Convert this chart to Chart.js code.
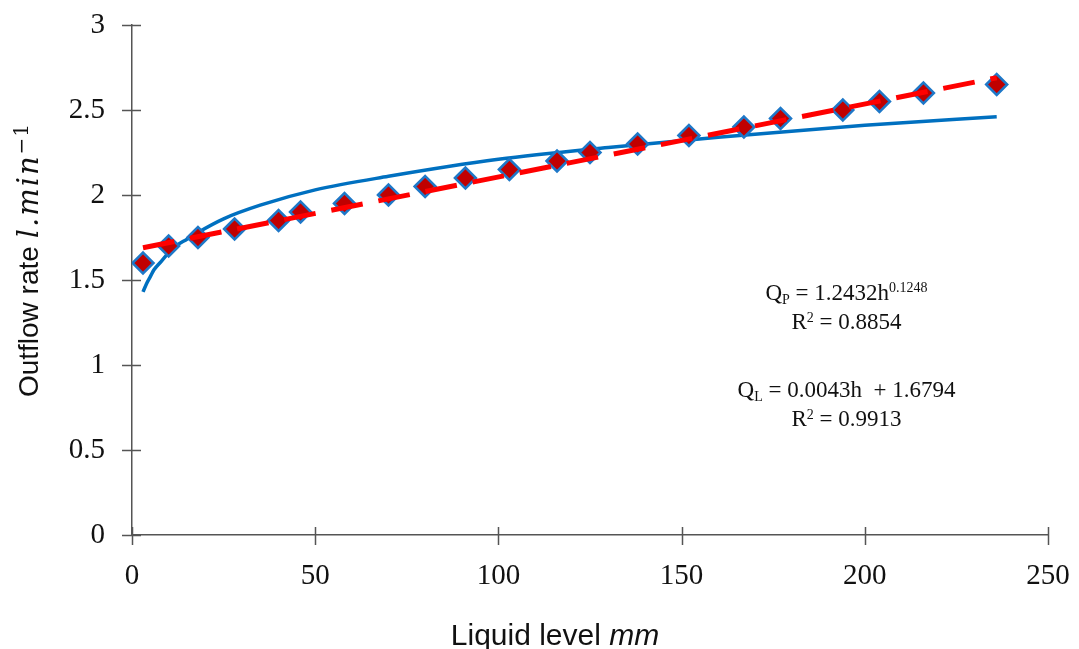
<!DOCTYPE html>
<html>
<head>
<meta charset="utf-8">
<script src="https://cdn.jsdelivr.net/npm/chart.js@4.4.0/dist/chart.umd.min.js"></script>
<style>
  body { margin: 0; background: #fff; }
  #wrap { width: 1079px; height: 649px; }
</style>
</head>
<body>
<div id="wrap"><canvas id="outflow-chart" width="1079" height="649"></canvas></div>
<script>
// Measured outflow (diamond markers)
const levelMm = [3, 10, 18, 28, 40, 46, 58, 70, 80, 91, 103, 116, 125, 138, 152, 167, 177, 194, 204, 216, 236];
const outflow = [1.6, 1.7, 1.75, 1.8, 1.85, 1.9, 1.95, 2.0, 2.05, 2.1, 2.15, 2.2, 2.25, 2.3, 2.35, 2.4, 2.45, 2.5, 2.55, 2.6, 2.65];

// Power trendline
const powerLevel = [3, 4, 5, 6, 8, 10, 12, 15, 18, 25, 35, 50, 70, 100, 130, 160, 200, 236];
const powerQ = [1.43, 1.48, 1.52, 1.56, 1.61, 1.66, 1.70, 1.74, 1.78, 1.86, 1.94, 2.03, 2.11, 2.21, 2.28, 2.34, 2.41, 2.46];

// Linear trendline (red dashed), end points
const linearLevel = [3, 236];
const linearQ = [1.69, 2.69];

// Axis ticks
const xTickLabels = ['0', '50', '100', '150', '200', '250'];
const yTickLabels = ['0', '0.5', '1', '1.5', '2', '2.5', '3'];

const AXIS_COLOR = '#555555';
const SERIF = '"Liberation Serif", "Times New Roman", serif';
const SANS = '"Liberation Sans", Arial, sans-serif';

const toPoints = (xs, ys) => xs.map((x, i) => ({ x: x, y: ys[i] }));

// draw a run of text pieces (different fonts / raised or lowered) centred on cx
function drawRich(ctx, parts, cx, base) {
    let w = 0;
    parts.forEach(p => {
        ctx.font = p.font;
        w += ctx.measureText(p.text).width + (p.gap || 0) * p.text.length;
    });
    let cur = cx - w / 2;
    parts.forEach(p => {
        ctx.font = p.font;
        if (p.gap) {
            for (const ch of p.text) {
                ctx.fillText(ch, cur, base + (p.dy || 0));
                cur += ctx.measureText(ch).width + p.gap;
            }
        } else {
            ctx.fillText(p.text, cur, base + (p.dy || 0));
            cur += ctx.measureText(p.text).width;
        }
    });
}

// tick marks crossing the axes, axis titles and the fit equations
const axisDecor = {
    id: 'axisDecor',
    afterDraw(chart) {
        const ctx = chart.ctx;
        const xs = chart.scales.x, ys = chart.scales.y;
        const left = chart.chartArea.left, bottom = chart.chartArea.bottom;

        ctx.save();
        ctx.strokeStyle = AXIS_COLOR;
        ctx.lineWidth = 1.5;
        ctx.beginPath();
        ys.ticks.forEach(t => {
            const py = Math.round(ys.getPixelForValue(t.value)) + 0.5;
            ctx.moveTo(left - 10, py);
            ctx.lineTo(left + 9, py);
        });
        xs.ticks.forEach(t => {
            const px = Math.round(xs.getPixelForValue(t.value)) + 0.5;
            ctx.moveTo(px, bottom - 8);
            ctx.lineTo(px, bottom + 10);
        });
        ctx.stroke();

        ctx.fillStyle = '#111';
        ctx.textBaseline = 'alphabetic';

        // x axis title
        drawRich(ctx, [
            { text: 'Liquid level ', font: '30px ' + SANS },
            { text: 'mm', font: 'italic 30px ' + SANS }
        ], 555, 645);

        // y axis title, rotated
        ctx.save();
        ctx.translate(38, 260);
        ctx.rotate(-Math.PI / 2);
        drawRich(ctx, [
            { text: 'Outflow rate ', font: '28px ' + SANS },
            { text: 'l.min', font: 'italic 29px "DejaVu Serif", serif', gap: 2 },
            { text: '\u22121', font: '20px "DejaVu Serif", serif', dy: -10, gap: 1 }
        ], 0, 0);
        ctx.restore();

        // fit equations
        const cx = xs.getPixelForValue(195);
        const big = '23px ' + SERIF, small = '14px ' + SERIF;
        drawRich(ctx, [
            { text: 'Q', font: big }, { text: 'P', font: small, dy: 4 },
            { text: ' = 1.2432h', font: big }, { text: '0.1248', font: small, dy: -8 }
        ], cx, ys.getPixelForValue(1.38));
        drawRich(ctx, [
            { text: 'R', font: big }, { text: '2', font: small, dy: -7 },
            { text: ' = 0.8854', font: big }
        ], cx, ys.getPixelForValue(1.21));
        drawRich(ctx, [
            { text: 'Q', font: big }, { text: 'L', font: small, dy: 4 },
            { text: ' = 0.0043h  + 1.6794', font: big }
        ], cx, ys.getPixelForValue(0.81));
        drawRich(ctx, [
            { text: 'R', font: big }, { text: '2', font: small, dy: -7 },
            { text: ' = 0.9913', font: big }
        ], cx, ys.getPixelForValue(0.64));
        ctx.restore();
    }
};

new Chart(document.getElementById('outflow-chart'), {
    type: 'line',
    data: {
        datasets: [
            {
                label: 'Linear fit',
                data: toPoints(linearLevel, linearQ),
                borderColor: '#FF0000',
                borderWidth: 5,
                borderDash: [32, 16],
                pointRadius: 0,
                order: 0
            },
            {
                label: 'Measured',
                data: toPoints(levelMm, outflow),
                showLine: false,
                pointStyle: 'rectRot',
                pointRadius: 10.5,
                pointBackgroundColor: '#C00000',
                pointBorderColor: '#1E78C8',
                pointBorderWidth: 2.5,
                order: 1
            },
            {
                label: 'Power fit',
                data: toPoints(powerLevel, powerQ),
                borderColor: '#0070C0',
                borderWidth: 3.5,
                pointRadius: 0,
                cubicInterpolationMode: 'monotone',
                order: 2
            }
        ]
    },
    options: {
        responsive: false,
        devicePixelRatio: 1,
        animation: false,
        layout: { autoPadding: false, padding: { top: 25, right: 31, left: 0, bottom: 0 } },
        plugins: {
            legend: { display: false },
            tooltip: { enabled: false }
        },
        scales: {
            x: {
                type: 'linear',
                min: 0,
                max: 250,
                afterFit: scale => { scale.height = 114; },
                // invisible tick marks just push the labels down; real ticks come from the plugin
                grid: { drawOnChartArea: false, tickLength: 24, tickColor: 'rgba(0,0,0,0)' },
                border: { color: AXIS_COLOR, width: 1.5 },
                ticks: {
                    stepSize: 50,
                    padding: 0,
                    maxRotation: 0,
                    color: '#111',
                    font: { family: SERIF, size: 29 },
                    callback: (v, i) => xTickLabels[i]
                }
            },
            y: {
                min: 0,
                max: 3,
                afterFit: scale => { scale.width = 132; },
                grid: { drawOnChartArea: false, tickLength: 27, tickColor: 'rgba(0,0,0,0)' },
                border: { color: AXIS_COLOR, width: 1.5 },
                ticks: {
                    stepSize: 0.5,
                    padding: 0,
                    color: '#111',
                    font: { family: SERIF, size: 29 },
                    callback: (v, i) => yTickLabels[i]
                }
            }
        }
    },
    plugins: [axisDecor]
});
</script>
</body>
</html>
